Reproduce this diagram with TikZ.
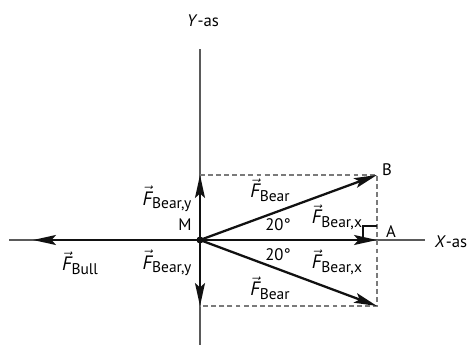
\documentclass[tikz,border=0pt]{standalone}
\usepackage{amsmath}
\usepackage{fontspec}
\setmainfont{PT Sans}
\usepackage{tikz}
\usepackage{xcolor}
\usetikzlibrary{arrows.meta,calc}
\definecolor{ink}{HTML}{111111}
\definecolor{axis}{HTML}{5A5A5A}
\definecolor{rule}{HTML}{7A7A7A}
% force label: F with arrow and subscript
\newcommand{\vF}[1]{{\fontsize{11}{12}\selectfont$\vec{\textit{F}}$}\raisebox{-2pt}{\fontsize{8.8}{9}\selectfont #1}}

\begin{document}
\begin{tikzpicture}[x=0.02cm,y=-0.02cm,font=\fontsize{9.5}{11}\selectfont,
    force/.style={line width=1.3pt,draw=ink,-{Stealth[length=4.6mm,width=2mm,inset=0.9mm]}},
    axisline/.style={line width=0.6pt,draw=axis},
    guide/.style={line width=0.6pt,draw=rule,dash pattern=on 2.8pt off 1.8pt}]
  \useasboundingbox (0,0) rectangle (467,345);
  % points
  \coordinate (M) at (200,240);
  \coordinate (A) at (377,240);
  \coordinate (B) at (377,175);
  \coordinate (C) at (377,306);
  \coordinate (Ft) at (200,175);
  \coordinate (Fb) at (200,306);
  \coordinate (Fl) at (33,240);
  \coordinate (xl) at (9,240);
  \coordinate (xr) at (425,240);
  \coordinate (yt) at (200,49);
  \coordinate (yb) at (200,345);
  % axes
  \draw[axisline] (xl) -- (xr);
  \draw[axisline] (yt) -- (yb);
  % dashed box
  \draw[guide] (Ft) -- (B) -- (C) -- (Fb);
  % right angle at A
  \draw[line width=0.6pt,draw=ink] ($(A)+(-14,0)$) |- ($(A)+(0,-14)$);
  % forces
  \foreach \t in {B,A,C,Ft,Fb,Fl}
    \draw[force] (M) -- (\t);
  \fill[ink] (M) circle (3.5);
  % labels
  \node (lY) at (203,21) {\textit{Y}-as};
  \node (lX) at (451,242) {\textit{X}-as};
  \node (lM) at (185,225) {M};
  \node (lA) at (391,232) {A};
  \node (lB) at (387,170) {B};
  \node (aU) at (278,225) {20°};
  \node (aL) at (278,255) {20°};
  \node (fBu) at (270,190) {\vF{Bear}};
  \node (fBl) at (270,288) {\vF{Bear}};
  \node (fXu) at (337,217) {\vF{Bear,x}};
  \node (fXl) at (337,262) {\vF{Bear,x}};
  \node (fYu) at (167,199) {\vF{Bear,y}};
  \node (fYl) at (167,263) {\vF{Bear,y}};
  \node (fBull) at (80,263) {\vF{Bull}};
\end{tikzpicture}
\end{document}
